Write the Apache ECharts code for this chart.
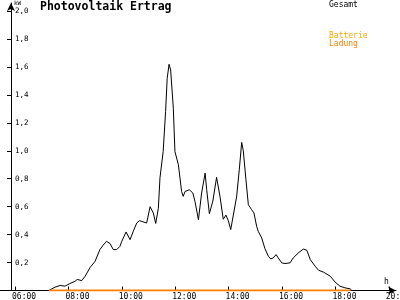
<!DOCTYPE html>
<html>
<head>
<meta charset="utf-8">
<script src="https://cdn.jsdelivr.net/npm/echarts@6/dist/echarts.min.js"></script>
<style>html,body{margin:0;padding:0;background:#fff}#c{width:400px;height:300px}</style>
</head>
<body>
<div id="c"></div>
<script>
// time in hours of day
const times = [7.27,7.31,7.50,7.69,7.87,8.06,8.25,8.33,8.50,8.62,8.81,9.00,9.18,9.30,9.43,9.56,9.68,9.81,9.93,10.00,10.16,10.31,10.43,10.56,10.66,10.93,11.06,11.18,11.27,11.37,11.43,11.55,11.64,11.70,11.77,11.83,11.93,11.99,12.12,12.24,12.30,12.37,12.53,12.66,12.74,12.87,12.99,13.12,13.18,13.28,13.41,13.55,13.68,13.80,13.90,13.99,14.08,14.15,14.30,14.40,14.49,14.55,14.65,14.74,14.86,14.95,15.05,15.11,15.24,15.36,15.49,15.58,15.67,15.78,15.86,15.99,16.11,16.30,16.42,16.61,16.80,16.93,17.06,17.24,17.37,17.56,17.81,17.99,18.17,18.36,18.55,18.62];
const gesamt = [0,0.01,0.024,0.036,0.031,0.05,0.066,0.079,0.071,0.10,0.164,0.209,0.293,0.324,0.352,0.336,0.293,0.293,0.316,0.352,0.419,0.364,0.424,0.483,0.50,0.483,0.60,0.555,0.48,0.589,0.807,0.995,1.28,1.519,1.619,1.579,1.305,0.995,0.90,0.709,0.674,0.709,0.721,0.698,0.638,0.507,0.698,0.84,0.721,0.55,0.64,0.81,0.67,0.51,0.54,0.50,0.436,0.436,0.67,0.864,1.06,1.0,0.793,0.614,0.579,0.555,0.46,0.424,0.376,0.30,0.245,0.226,0.233,0.257,0.233,0.198,0.193,0.198,0.233,0.269,0.297,0.288,0.221,0.174,0.145,0.131,0.102,0.06,0.031,0.019,0.012,0];
const batterieTimes = [7.27, 18.57];
const batterieLadung = [0, 0];
const xTicks = [6,8,10,12,14,16,18,20];
const yTicks = [0.2,0.4,0.6,0.8,1.0,1.2,1.4,1.6,1.8,2.0];

const chart = echarts.init(document.getElementById('c'), null, {renderer:'canvas'});
const mono = 'DejaVu Sans Mono';
const pad = n => (n < 10 ? '0' : '') + n;
chart.setOption({
  animation: false,
  backgroundColor: '#fff',
  grid: {left: 0, right: 4, top: 3, bottom: 9.5, containLabel: false, outerBoundsMode: 'none'},
  xAxis: {
    type: 'value', min: 5.4385, max: 20.2697,
    splitLine: {show: false},
    axisLine: {onZero: true, lineStyle: {color: '#000', width: 1}, symbol: ['none', 'arrow'], symbolSize: [6, 8]},
    axisTick: {show: true, inside: true, length: 4, customValues: xTicks, lineStyle: {color: '#000'}},
    axisLabel: {customValues: xTicks, color: '#000', fontFamily: mono, fontSize: 8, margin: 2, align: 'left', padding: [0,0,0,-3],
      formatter: v => pad(Math.round(v)) + ':00'}
  },
  yAxis: {
    type: 'value', min: 0, max: 2.058, offset: -11,
    splitLine: {show: false},
    axisLine: {onZero: false, lineStyle: {color: '#000', width: 1}, symbol: ['none', 'arrow'], symbolSize: [6, 8]},
    axisTick: {show: true, length: 4, customValues: yTicks, lineStyle: {color: '#000'}},
    axisLabel: {customValues: yTicks, inside: true, margin: 4, color: '#000', fontFamily: mono, fontSize: 7.5,
      formatter: v => v.toFixed(1).replace('.', ',')}
  },
  title: {text: 'Photovoltaik Ertrag', left: 40, top: 1, padding: 0,
    textStyle: {fontFamily: mono, fontWeight: 'bold', fontSize: 11.5, color: '#000'}},
  graphic: [
    {type: 'text', left: 14, top: 0, style: {text: 'kW', font: '6px ' + mono, fill: '#000'}},
    {type: 'text', left: 384, top: 278, style: {text: 'h', font: '8px ' + mono, fill: '#000'}},
    {type: 'text', left: 329, top: 1, style: {text: 'Gesamt', font: '8px ' + mono, fill: '#000'}},
    {type: 'text', left: 329, top: 32, style: {text: 'Batterie', font: '8px ' + mono, fill: '#f5a800'}},
    {type: 'text', left: 329, top: 40, style: {text: 'Ladung', font: '8px ' + mono, fill: '#ff8000'}}
  ],
  series: [
    {name: 'Batterie Ladung', type: 'line', symbol: 'none', lineStyle: {color: '#ff8000', width: 2},
      data: batterieTimes.map((t, i) => [t, batterieLadung[i]]), z: 3},
    {name: 'Gesamt', type: 'line', symbol: 'none', lineStyle: {color: '#000', width: 1},
      data: times.map((t, i) => [t, gesamt[i]]), z: 2}
  ]
});
</script>
</body>
</html>
